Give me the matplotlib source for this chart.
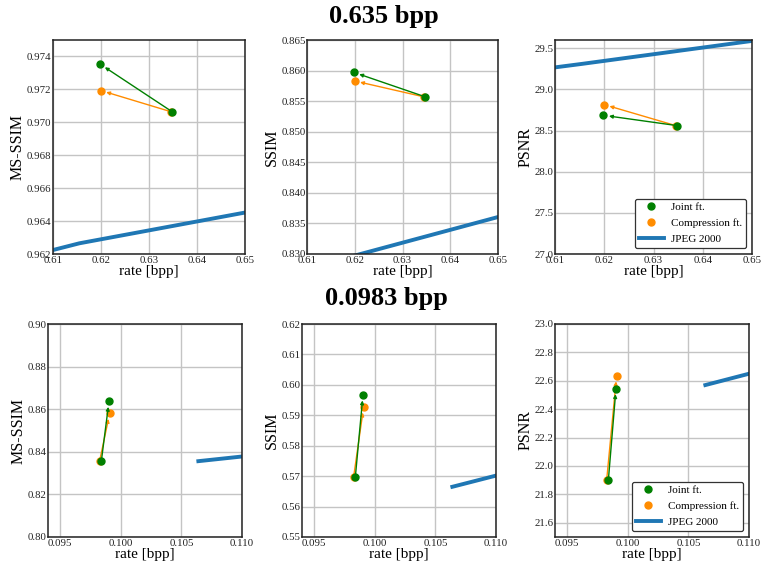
import matplotlib
matplotlib.use("Agg")
import matplotlib.pyplot as plt

plt.rcParams['font.family'] = ['Liberation Serif', 'DejaVu Serif']
plt.rcParams['mathtext.fontset'] = 'stix'

# ---- data: 0.635 bpp (top row) ----
top_joint_rate = [0.63478, 0.61983]
top_comp_rate = [0.63450, 0.61997]
top_joint_msssim = [0.97065, 0.97353]
top_comp_msssim = [0.97065, 0.97193]
top_joint_ssim = [0.8557, 0.8597]
top_comp_ssim = [0.8557, 0.8583]
top_joint_psnr = [28.56, 28.685]
top_comp_psnr = [28.56, 28.815]
top_jp2_rate = [0.600, 0.6155, 0.665]
top_jp2_msssim = [0.96150, 0.96265, 0.96533]
top_jp2_ssim = [0.8250, 0.8288, 0.8392]
top_jp2_psnr = [29.19, 29.31, 29.71]

# ---- data: 0.0983 bpp (bottom row) ----
bot_joint_rate = [0.09840, 0.09903]
bot_comp_rate = [0.09826, 0.09908]
bot_joint_msssim = [0.8357, 0.8637]
bot_comp_msssim = [0.8357, 0.8580]
bot_joint_ssim = [0.5698, 0.5967]
bot_comp_ssim = [0.5698, 0.5927]
bot_joint_psnr = [21.90, 22.545]
bot_comp_psnr = [21.90, 22.635]
bot_jp2_rate = [0.1064, 0.1110]
bot_jp2_msssim = [0.8356, 0.8384]
bot_jp2_ssim = [0.5665, 0.5712]
bot_jp2_psnr = [22.57, 22.672]

titles = ["0.635 bpp", "0.0983 bpp"]
ylabels = ["MS-SSIM", "SSIM", "PSNR"]

GREEN = "green"
ORANGE = "darkorange"
BLUE = "#1f77b4"

fig = plt.figure(figsize=(7.61, 5.64), dpi=100)

W, H = 761, 564
def px_axes(l, r, t, b):
    return fig.add_axes([l / W, 1 - b / H, (r - l) / W, (b - t) / H])

top_boxes = [(53, 245, 40, 254), (307, 498, 40, 254), (555, 752, 40, 254)]
bot_boxes = [(48, 242, 324, 537), (302, 496, 324, 537), (555, 749, 324, 537)]

top_data = [
    (top_joint_msssim, top_comp_msssim, top_jp2_msssim, (0.962, 0.975), [0.962, 0.964, 0.966, 0.968, 0.970, 0.972, 0.974], "{:.3f}"),
    (top_joint_ssim, top_comp_ssim, top_jp2_ssim, (0.830, 0.865), [0.830, 0.835, 0.840, 0.845, 0.850, 0.855, 0.860, 0.865], "{:.3f}"),
    (top_joint_psnr, top_comp_psnr, top_jp2_psnr, (27.0, 29.6), [27.0, 27.5, 28.0, 28.5, 29.0, 29.5], "{:.1f}"),
]
bot_data = [
    (bot_joint_msssim, bot_comp_msssim, bot_jp2_msssim, (0.80, 0.90), [0.80, 0.82, 0.84, 0.86, 0.88, 0.90], "{:.2f}"),
    (bot_joint_ssim, bot_comp_ssim, bot_jp2_ssim, (0.55, 0.62), [0.55, 0.56, 0.57, 0.58, 0.59, 0.60, 0.61, 0.62], "{:.2f}"),
    (bot_joint_psnr, bot_comp_psnr, bot_jp2_psnr, (21.5, 23.0), [21.6, 21.8, 22.0, 22.2, 22.4, 22.6, 22.8, 23.0], "{:.1f}"),
]

def draw_panel(ax, jr, cr, jy, cy, jpr, jpy, xlim, xticks, xfmt, ylim, yticks, yfmt, ylabel, legend):
    ax.set_axisbelow(True)
    ax.grid(True, color="#c4c4c4", lw=1.0)
    ax.plot(jpr, jpy, color=BLUE, lw=2.8, label="JPEG 2000", zorder=2)
    ax.plot(cr, cy, 'o', color=ORANGE, ms=5, zorder=3, label="Compression ft.")
    ax.annotate("", xy=(cr[1], cy[1]), xytext=(cr[0], cy[0]),
                arrowprops=dict(arrowstyle="-|>", color=ORANGE, lw=1.0,
                                mutation_scale=5, shrinkA=0, shrinkB=4), zorder=3)
    ax.plot(jr, jy, 'o', color=GREEN, ms=5, zorder=4, label="Joint ft.")
    ax.annotate("", xy=(jr[1], jy[1]), xytext=(jr[0], jy[0]),
                arrowprops=dict(arrowstyle="-|>", color=GREEN, lw=1.0,
                                mutation_scale=5, shrinkA=0, shrinkB=4), zorder=4)
    ax.set_xlim(*xlim)
    ax.set_ylim(*ylim)
    ax.set_xticks(xticks)
    ax.set_xticklabels([xfmt.format(v) for v in xticks])
    ax.set_yticks(yticks)
    ax.set_yticklabels([yfmt.format(v) for v in yticks])
    ax.tick_params(length=0, labelsize=7.8, colors="#222222")
    ax.tick_params(axis="x", pad=1.5)
    ax.tick_params(axis="y", pad=1)
    ax.set_xlabel("rate [bpp]", fontsize=11, labelpad=0)
    ax.set_ylabel(ylabel, fontsize=11.5, labelpad=1)
    for s in ax.spines.values():
        s.set_color("#222222")
        s.set_linewidth(1.1)
    if legend:
        h, l = ax.get_legend_handles_labels()
        order = [l.index("Joint ft."), l.index("Compression ft."), l.index("JPEG 2000")]
        leg = ax.legend([h[i] for i in order], [l[i] for i in order], loc="lower right",
                        fontsize=8, frameon=True, fancybox=True, framealpha=1.0,
                        borderpad=0.35, handlelength=2.3, handletextpad=0.6,
                        labelspacing=0.55, borderaxespad=0.55)
        leg.get_frame().set_edgecolor("#333333")
        leg.get_frame().set_linewidth(0.9)

top_xticks = [0.61, 0.62, 0.63, 0.64, 0.65]
bot_xticks = [0.095, 0.100, 0.105, 0.110]

for i, (box, d) in enumerate(zip(top_boxes, top_data)):
    ax = px_axes(*box)
    jy, cy, jpy, ylim, yticks, yfmt = d
    draw_panel(ax, top_joint_rate, top_comp_rate, jy, cy, top_jp2_rate, jpy,
               (0.61, 0.65), top_xticks, "{:.2f}", ylim, yticks, yfmt, ylabels[i], i == 2)

for i, (box, d) in enumerate(zip(bot_boxes, bot_data)):
    ax = px_axes(*box)
    jy, cy, jpy, ylim, yticks, yfmt = d
    draw_panel(ax, bot_joint_rate, bot_comp_rate, jy, cy, bot_jp2_rate, jpy,
               (0.094, 0.110), bot_xticks, "{:.3f}", ylim, yticks, yfmt, ylabels[i], i == 2)

fig.text(384 / W, 1 - 17 / H, titles[0], ha="center", va="center", fontsize=19, fontweight="bold")
fig.text(386 / W, 1 - 299 / H, titles[1], ha="center", va="center", fontsize=19, fontweight="bold")

fig.savefig("out.png", dpi=100)
